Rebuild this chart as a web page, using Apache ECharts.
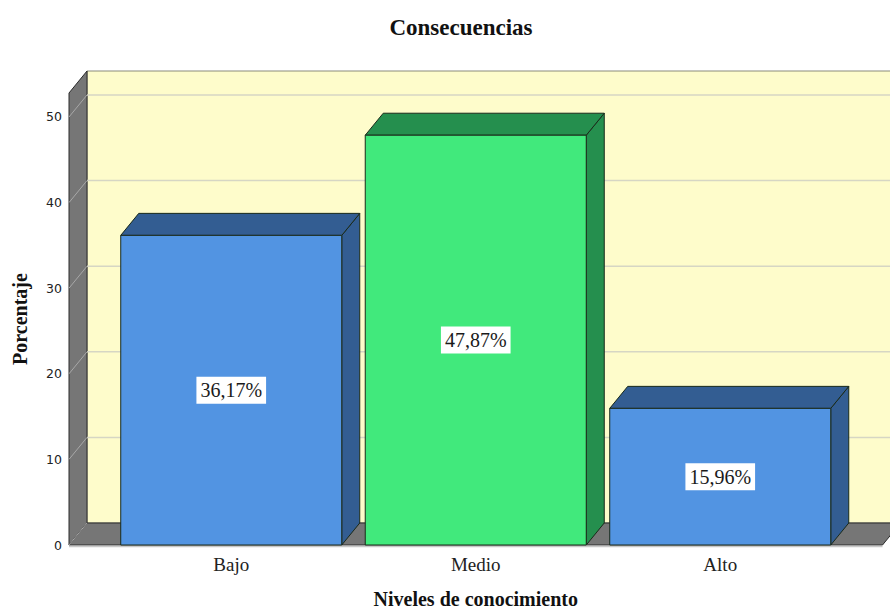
<!DOCTYPE html>
<html>
<head>
<meta charset="utf-8">
<style>
  html, body { margin: 0; padding: 0; background: #fff; }
  #chart { width: 890px; height: 612px; }
</style>
<script src="https://cdn.jsdelivr.net/npm/echarts@6/dist/echarts.min.js"></script>
</head>
<body>
<div id="chart"></div>
<script>
// data
var categories = ['Bajo', 'Medio', 'Alto'];
var percentages = [36.17, 47.87, 15.96];
var gridValues = [0, 10, 20, 30, 40, 50];

var DX = 18, DY = -22, SIDE = 40; // depth of the 3d box
var SERIF = '"Liberation Serif", "DejaVu Serif", serif';

var barColors = [
  { front: '#5294e2', dark: '#335d92' },
  { front: '#41e97c', dark: '#258f4e' },
  { front: '#5294e2', dark: '#335d92' }
];

function fmt(v) {
  return v.toFixed(2).replace('.', ',') + '%';
}

function renderFrame(params, api) {
  var cs = params.coordSys;
  var x0 = cs.x - SIDE, x1 = cs.x + cs.width + SIDE;
  var top = cs.y, bot = cs.y + cs.height;
  var kids = [];
  // back wall
  kids.push({
    type: 'polygon',
    shape: { points: [[x0 + DX, top + DY], [x1 + DX, top + DY], [x1 + DX, bot + DY], [x0 + DX, bot + DY]] },
    style: { fill: '#fefccb', stroke: '#8a8a7a', lineWidth: 1 }
  });
  // left wall
  kids.push({
    type: 'polygon',
    shape: { points: [[x0, top], [x0 + DX, top + DY], [x0 + DX, bot + DY], [x0, bot]] },
    style: { fill: '#767676', stroke: '#2a2a2a', lineWidth: 1 }
  });
  // floor
  kids.push({
    type: 'polygon',
    shape: { points: [[x0, bot], [x0 + DX, bot + DY], [x1 + DX, bot + DY], [x1, bot]] },
    style: { fill: '#767676', stroke: '#2a2a2a', lineWidth: 1 }
  });
  gridValues.forEach(function (v) {
    var y = api.coord([0, v])[1];
    if (v > 0) {
      kids.push({
        type: 'line',
        shape: { x1: x0 + DX, y1: y + DY, x2: x1 + DX, y2: y + DY },
        style: { stroke: '#d6d6c4', lineWidth: 1.5 }
      });
    }
    kids.push({
      type: 'line',
      shape: { x1: x0, y1: y, x2: x0 + DX, y2: y + DY },
      style: { stroke: '#a8a8a8', lineWidth: 1 }
    });
  });
  // front bottom edge
  kids.push({
    type: 'line',
    shape: { x1: x0, y1: bot + 1.5, x2: x1, y2: bot + 1.5 },
    style: { stroke: '#c8c8c8', lineWidth: 1.5 }
  });
  return { type: 'group', children: kids };
}

function renderBar(params, api) {
  var idx = api.value(0);
  var val = api.value(1);
  var p1 = api.coord([idx, val]);
  var p0 = api.coord([idx, 0]);
  var band = api.size([1, 0])[0];
  var w = band * 0.904;
  var xl = p1[0] - w / 2, xr = p1[0] + w / 2;
  var yt = p1[1], yb = p0[1];
  var c = barColors[idx];
  var edge = '#1a2a1a';
  return {
    type: 'group',
    children: [
      {
        type: 'polygon',
        shape: { points: [[xr, yt], [xr + DX, yt + DY], [xr + DX, yb + DY], [xr, yb]] },
        style: { fill: c.dark, stroke: edge, lineWidth: 1 }
      },
      {
        type: 'polygon',
        shape: { points: [[xl, yt], [xl + DX, yt + DY], [xr + DX, yt + DY], [xr, yt]] },
        style: { fill: c.dark, stroke: edge, lineWidth: 1 }
      },
      {
        type: 'rect',
        shape: { x: xl, y: yt, width: w, height: yb - yt },
        style: { fill: c.front, stroke: edge, lineWidth: 1 }
      },
      {
        type: 'text',
        x: p1[0],
        y: (yt + yb) / 2,
        style: {
          text: fmt(val),
          font: '20px ' + SERIF,
          fill: '#1a1a1a',
          align: 'center',
          verticalAlign: 'middle',
          backgroundColor: '#ffffff',
          padding: [4, 4, 3, 4]
        }
      }
    ]
  };
}

var chart = echarts.init(document.getElementById('chart'), null, { renderer: 'svg' });
chart.setOption({
  animation: false,
  title: {
    text: 'Consecuencias',
    left: 456,
    textAlign: 'center',
    top: 11,
    textStyle: { fontFamily: SERIF, fontSize: 23, fontWeight: 'bold', color: '#111' }
  },
  grid: { left: 109, top: 93, width: 733.5, height: 452, outerBoundsMode: 'none', containLabel: false },
  xAxis: {
    type: 'category',
    data: categories,
    name: 'Niveles de conocimiento',
    nameLocation: 'middle',
    nameGap: 44,
    nameTextStyle: { fontFamily: SERIF, fontSize: 20, fontWeight: 'bold', color: '#111' },
    axisLine: { show: false },
    axisTick: { show: false },
    axisLabel: { fontFamily: SERIF, fontSize: 19, color: '#222', margin: 10 }
  },
  yAxis: {
    type: 'value',
    min: 0,
    max: 52.8,
    interval: 10,
    name: 'Porcentaje',
    nameLocation: 'middle',
    nameGap: 79,
    nameTextStyle: { fontFamily: SERIF, fontSize: 20, fontWeight: 'bold', color: '#111' },
    axisLine: { show: false },
    axisTick: { show: false },
    splitLine: { show: false },
    axisLabel: {
      showMaxLabel: false,
      fontFamily: '"DejaVu Sans", sans-serif',
      fontSize: 12.5,
      color: '#222',
      margin: 47
    }
  },
  series: [
    {
      type: 'custom',
      name: 'frame',
      silent: true,
      renderItem: renderFrame,
      data: [[0, 0]],
      z: 1
    },
    {
      type: 'custom',
      name: 'Porcentaje',
      renderItem: renderBar,
      encode: { x: 0, y: 1 },
      data: percentages.map(function (v, i) { return [i, v]; }),
      z: 2
    }
  ]
});
</script>
</body>
</html>
